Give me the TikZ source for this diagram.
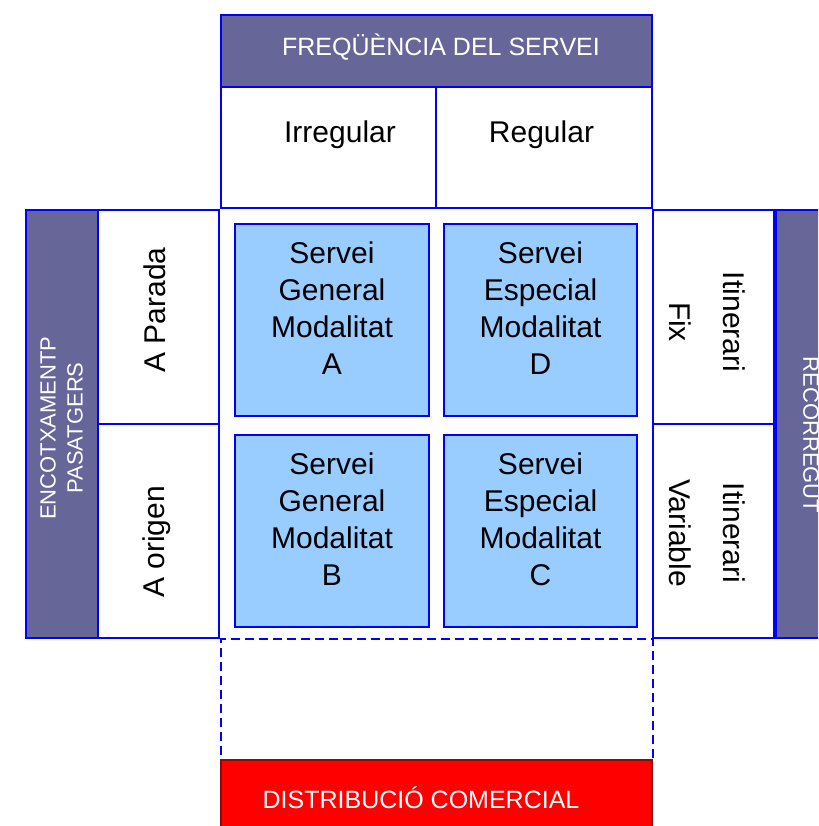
\documentclass[tikz,border=0pt]{standalone}
\usepackage{fontspec}
\setmainfont{Liberation Sans}

\definecolor{lila}{HTML}{666699}
\definecolor{celeste}{HTML}{99CCFF}
\definecolor{vermell}{HTML}{FF0000}
\definecolor{granat}{HTML}{8B0A0A}

\tikzstyle{capsa}=[draw=blue, line width=2.6pt, inner sep=0pt, outer sep=0pt]
\tikzstyle{titol}=[capsa, fill=lila]
\tikzstyle{blanca}=[capsa, fill=white]
\tikzstyle{servei}=[capsa, fill=celeste]
\tikzstyle{gran}=[font=\fontsize{30pt}{37pt}\selectfont, align=center, inner sep=0pt]
\tikzstyle{petit}=[font=\fontsize{25pt}{29pt}\selectfont, text=white, align=center, inner sep=0pt]
\tikzstyle{lateral}=[font=\fontsize{22pt}{27pt}\selectfont, text=white, align=center, inner sep=0pt]

\begin{document}
\begin{tikzpicture}[x=1pt, y=-1pt]
	            \useasboundingbox (0,0) rectangle (818,826);
	            \clip (0,0) rectangle (818,826);

	            % Capçalera superior
	            \node[titol, minimum width=431pt, minimum height=72pt] (freq) at (436.5,51) {};
	            \node[petit, anchor=base] (tFreq) at (441,56) {FREQÜÈNCIA DEL SERVEI};

	            \node[blanca, minimum width=215pt, minimum height=121pt] (irreg) at (328.5,147.5) {};
	            \node[blanca, minimum width=216pt, minimum height=121pt] (reg) at (544,147.5) {};
	            \node[gran, anchor=base] (tIrreg) at (340,143) {Irregular};
	            \node[gran, anchor=base] (tReg) at (541.5,143) {Regular};

	            % Columna esquerra
	            \node[titol, minimum width=72pt, minimum height=428pt] (encot) at (62,424) {};
	            \node[lateral, rotate=90] (tEncot) at (61.5,428) {ENCOTXAMENTP\\PASATGERS};

	            \node[blanca, minimum width=121pt, minimum height=214pt] (parada) at (158.5,317) {};
	            \node[blanca, minimum width=121pt, minimum height=214pt] (origen) at (158.5,531) {};
	            \node[gran, rotate=90] (tParada) at (155,310) {A Parada};
	            \node[gran, rotate=90] (tOrigen) at (157,542) {A origen};

	            % Columna dreta
	            \node[blanca, minimum width=121pt, minimum height=214pt] (fix) at (713.5,317) {};
	            \node[blanca, minimum width=121pt, minimum height=214pt] (variable) at (713.5,531) {};
	            \node[gran, rotate=-90, font=\fontsize{30pt}{54pt}\selectfont] (tFix) at (707,322) {Itinerari\\Fix};
	            \node[gran, rotate=-90, font=\fontsize{30pt}{54pt}\selectfont] (tVariable) at (707,533) {Itinerari\\Variable};

	            \node[titol, minimum width=72pt, minimum height=428pt] (recorr) at (812,424) {};
	            \node[lateral, rotate=-90] (tRecorr) at (811,435) {RECORREGUT};

	            % Serveis
	            \node[servei, minimum width=194pt, minimum height=192pt] (sA) at (332,320) {};
	            \node[servei, minimum width=193pt, minimum height=192pt] (sD) at (540.5,320) {};
	            \node[servei, minimum width=194pt, minimum height=192pt] (sB) at (332,531) {};
	            \node[servei, minimum width=193pt, minimum height=192pt] (sC) at (540.5,531) {};
	            \node[gran] (tA) at (332,308) {Servei\\General\\Modalitat\\A};
	            \node[gran] (tD) at (540.5,308) {Servei\\Especial\\Modalitat\\D};
	            \node[gran] (tB) at (332,519) {Servei\\General\\Modalitat\\B};
	            \node[gran] (tC) at (540.5,519) {Servei\\Especial\\Modalitat\\C};

	            % Espai buit i distribució
	            \node[capsa, dash pattern=on 9pt off 5pt, minimum width=432pt, minimum height=121pt] (buit) at (437,699.5) {};
	            \node[capsa, draw=granat, fill=vermell, minimum width=431pt, minimum height=72pt] (distrib) at (436.5,796) {};
	            \node[petit, anchor=base] (tDistrib) at (421,808) {DISTRIBUCIÓ COMERCIAL};
	        \end{tikzpicture}
\end{document}
